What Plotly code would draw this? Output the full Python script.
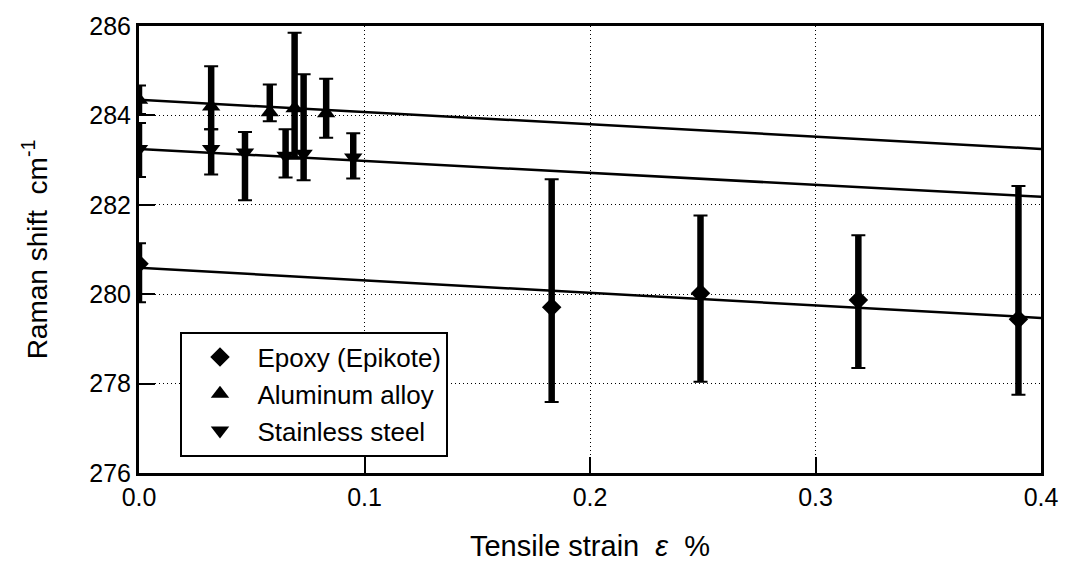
import plotly.graph_objects as go

# Raman shift vs. tensile strain for three substrate materials
strain_epoxy = [0.0, 0.183, 0.249, 0.319, 0.390]
shift_epoxy = [280.68, 279.71, 280.02, 279.87, 279.44]
err_up_epoxy = [0.46, 2.86, 1.74, 1.45, 2.98]
err_dn_epoxy = [0.86, 2.12, 1.98, 1.52, 1.69]

strain_al = [0.0, 0.032, 0.058, 0.069, 0.083]
shift_al = [284.35, 284.20, 284.07, 284.16, 284.05]
err_up_al = [0.32, 0.90, 0.62, 1.69, 0.77]
err_dn_al = [0.32, 0.51, 0.20, 1.13, 0.55]

strain_ss = [0.0, 0.032, 0.047, 0.065, 0.073, 0.095]
shift_ss = [283.25, 283.25, 283.17, 283.10, 283.14, 283.06]
err_up_ss = [0.58, 0.44, 0.46, 0.59, 1.78, 0.54]
err_dn_ss = [0.63, 0.57, 1.07, 0.49, 0.59, 0.47]

# Linear fits: shift = intercept + slope * strain
fit_intercept = {"epoxy": 280.59, "al": 284.35, "ss": 283.25}
fit_slope = {"epoxy": -2.80, "al": -2.75, "ss": -2.68}
fit_range = [0.0, 0.4]

x_ticks = [0.0, 0.1, 0.2, 0.3, 0.4]
y_ticks = [276, 278, 280, 282, 284, 286]

FONT = "Liberation Sans, Arial, Helvetica, sans-serif"

series = [
    ("Epoxy (Epikote)", strain_epoxy, shift_epoxy, err_up_epoxy, err_dn_epoxy, "diamond", 15, "epoxy"),
    ("Aluminum alloy", strain_al, shift_al, err_up_al, err_dn_al, "triangle-up", 16, "al"),
    ("Stainless steel", strain_ss, shift_ss, err_up_ss, err_dn_ss, "triangle-down", 16, "ss"),
]

fig = go.Figure()

# fit lines
for name, xs, ys, eu, ed, sym, size, key in series:
    fig.add_trace(go.Scatter(
        x=fit_range,
        y=[fit_intercept[key] + fit_slope[key] * v for v in fit_range],
        mode="lines", line=dict(color="black", width=2.5),
        showlegend=False, hoverinfo="skip",
    ))

# thick error-bar stems
for name, xs, ys, eu, ed, sym, size, key in series:
    fig.add_trace(go.Scatter(
        x=xs, y=ys, mode="markers", marker=dict(size=0.1, color="black"),
        error_y=dict(type="data", symmetric=False, array=eu, arrayminus=ed,
                     color="black", thickness=6.5, width=0),
        showlegend=False, hoverinfo="skip",
    ))

# thin caps
for name, xs, ys, eu, ed, sym, size, key in series:
    fig.add_trace(go.Scatter(
        x=xs, y=ys, mode="markers", marker=dict(size=0.1, color="black"),
        error_y=dict(type="data", symmetric=False, array=eu, arrayminus=ed,
                     color="black", thickness=2, width=7),
        showlegend=False, hoverinfo="skip",
    ))

# markers
for name, xs, ys, eu, ed, sym, size, key in series:
    fig.add_trace(go.Scatter(
        x=xs, y=ys, mode="markers", name=name,
        marker=dict(symbol=sym, size=size, color="black", line=dict(width=0)),
    ))

fig.update_layout(
    width=1070, height=570,
    margin=dict(l=139, r=23, t=18, b=97),
    paper_bgcolor="white", plot_bgcolor="white",
    font=dict(family=FONT, size=25, color="black"),
    showlegend=True,
    legend=dict(
        x=0.046, y=0.3165, xanchor="left", yanchor="top",
        bgcolor="white", bordercolor="black", borderwidth=2,
        font=dict(family=FONT, size=26, color="black"),
        itemwidth=65, tracegroupgap=0, entrywidth=200,
    ),
)

fig.update_xaxes(
    range=[0, 0.4], tickvals=x_ticks, ticktext=[f"{v:.1f}" for v in x_ticks],
    showline=True, linecolor="black", linewidth=3, mirror=True,
    ticks="inside", ticklen=16, tickwidth=2, tickcolor="black",
    showgrid=True, gridcolor="black", gridwidth=1, griddash="1px,3px",
    zeroline=False,
    title=dict(text="Tensile strain  <i>ε</i>  %", font=dict(family=FONT, size=29), standoff=26),
)
fig.update_yaxes(
    range=[276, 286], tickvals=y_ticks,
    showline=True, linecolor="black", linewidth=3, mirror=True,
    ticks="inside", ticklen=16, tickwidth=2, tickcolor="black",
    showgrid=True, gridcolor="black", gridwidth=1, griddash="1px,3px",
    zeroline=False,
    title=dict(text="Raman shift  cm<sup>-1</sup>", font=dict(family=FONT, size=28), standoff=34),
)

fig.write_html("out.html")
